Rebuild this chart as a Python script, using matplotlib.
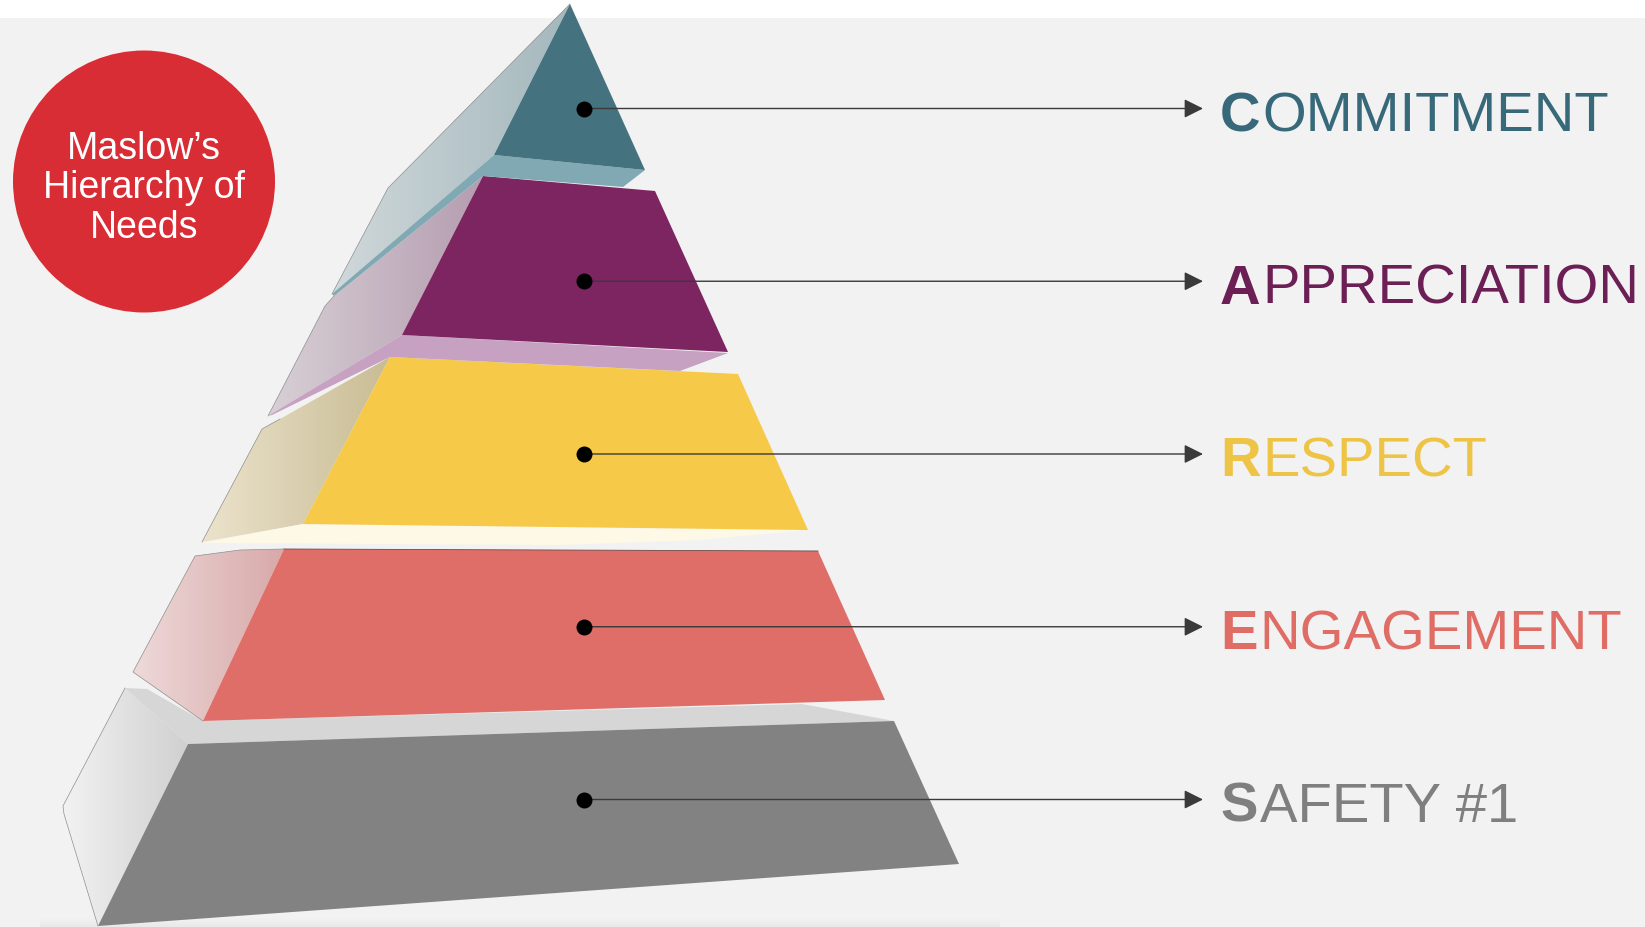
import numpy as np
import matplotlib
matplotlib.use("Agg")
import matplotlib.pyplot as plt
from matplotlib.patches import Polygon, Circle, Rectangle
from matplotlib.colors import to_rgb

plt.rcParams['font.family'] = ['Liberation Sans', 'DejaVu Sans']

# ---- content (bottom -> top) ----
levels = ['SAFETY #1', 'ENGAGEMENT', 'RESPECT', 'APPRECIATION', 'COMMITMENT']
label_colors = ['#7f7f7f', '#df6d66', '#eec447', '#6c1f55', '#37697a']
front_colors = ['#828282', '#e06e68', '#f7c948', '#7d2560', '#44737f']
under_colors = ['#d6d6d6', None, '#fdf9e6', '#c7a1c2', '#80a9b4']
side_left = ['#f2f2f2', '#eed9d9', '#ebe3cc', '#d8d0d6', '#d0d8da']
side_right = ['#d0d0d0', '#d8a9a9', '#c9bc94', '#b59db0', '#a4b8bd']
title_lines = ['Maslow\u2019s', 'Hierarchy of', 'Needs']

# ---- geometry of the drawn 3D pyramid (pixel space) ----
sides = [
    [(125, 689), (63, 807), (64, 815), (98, 927), (188, 745)],
    [(195, 557), (240, 551), (284, 550), (203, 722), (133, 673)],
    [(390, 358), (280, 420), (262, 430), (202, 543), (303, 525)],
    [(483, 177), (334, 297), (325, 307), (268, 417), (402, 336)],
    [(570, 5), (476, 100), (388, 189), (332, 295), (494, 156)],
]
side_outlines = [
    [(125, 689), (63, 807), (64, 815), (98, 927)],
    [(284, 550), (240, 551), (195, 557), (133, 673), (203, 722)],
    [(280, 420), (262, 430), (202, 543)],
    [(334, 297), (325, 307), (268, 417)],
    [(570, 5), (476, 100), (388, 189), (332, 295)],
]
unders = [
    [(125, 689), (147, 690), (203, 722), (802, 705), (894, 722), (188, 745)],
    None,
    [(303, 525), (808, 531), (700, 541), (560, 546), (202, 544)],
    [(402, 336), (728, 354), (680, 372), (390, 358), (272, 416), (268, 417)],
    [(494, 156), (645, 171), (623, 188), (483, 177), (334, 297), (332, 295)],
]
fronts = [
    [(188, 745), (894, 722), (959, 865), (98, 927)],
    [(284, 550), (818, 552), (885, 701), (203, 722)],
    [(390, 358), (738, 375), (808, 531), (303, 525)],
    [(483, 177), (655, 192), (728, 353), (402, 336)],
    [(570, 5), (645, 171), (494, 156)],
]

W, H = 1645, 928
fig = plt.figure(figsize=(W / 100, H / 100), dpi=100, facecolor='white')
ax = fig.add_axes([0, 0, 1, 1])
ax.set_axis_off()

ax.add_patch(Rectangle((0, 19), W, H - 19, facecolor='#f2f2f2', edgecolor='none', zorder=0))
# faint shadow at base
for k, a in enumerate(np.linspace(0.0, 0.035, 10)):
    ax.add_patch(Rectangle((40, 918 + k), 960, 1.2, facecolor='black', alpha=a,
                           edgecolor='none', zorder=0.5))


def grad_poly(pts, outline, c_left, c_right, z):
    poly = Polygon(pts, closed=True, facecolor='none', edgecolor='none', zorder=z)
    ax.add_patch(poly)
    xs = [p[0] for p in pts]
    ys = [p[1] for p in pts]
    x0, x1, y0, y1 = min(xs), max(xs), min(ys), max(ys)
    c1 = np.array(to_rgb(c_left))
    c2 = np.array(to_rgb(c_right))
    t = np.linspace(0, 1, 256)[None, :, None]
    img = c1 + (c2 - c1) * t
    im = ax.imshow(img, extent=[x0, x1, y1, y0], aspect='auto', zorder=z,
                   interpolation='bilinear')
    im.set_clip_path(poly)
    ax.plot([p[0] for p in outline], [p[1] for p in outline], color='#8f8f8f',
            lw=0.5, zorder=z + 0.01)


z = 1
for i in range(len(levels)):
    grad_poly(sides[i], side_outlines[i], side_left[i], side_right[i], z)
    z += 0.1
    if unders[i] is not None:
        ax.add_patch(Polygon(unders[i], closed=True, facecolor=under_colors[i],
                             edgecolor='none', zorder=z))
        z += 0.1
    ax.add_patch(Polygon(fronts[i], closed=True, facecolor=front_colors[i],
                         edgecolor='none', zorder=z))
    z += 0.1

# subtle dark top edge on the red tier
ax.plot([fronts[1][0][0], fronts[1][1][0]], [fronts[1][0][1], fronts[1][1][1]],
        color='#6a4a4a', lw=0.6, zorder=z)

# ---- dots, arrows, labels ----
dot_x = 584
tip_x = 1203
text_x = 1220
for i, (lab, col) in enumerate(zip(levels, label_colors)):
    y = 800.5 - 172.75 * i
    ax.annotate('', xy=(tip_x, y), xytext=(dot_x, y),
                arrowprops=dict(arrowstyle='-|>,head_length=0.4,head_width=0.2',
                                mutation_scale=29, color='#3a3a3a', lw=1.0,
                                shrinkA=0, shrinkB=0), zorder=20)
    ax.plot([dot_x], [y], marker='o', markersize=11.5, color='black',
            markeredgewidth=0, zorder=21)
    base = y + 21.5
    t1 = ax.text(text_x, base, lab[0], fontsize=40.5, fontweight='bold', color=col,
                 ha='left', va='baseline', zorder=22)
    ax.annotate(lab[1:], xy=(1, base), xycoords=(t1, 'data'), xytext=(2, 0),
                textcoords='offset pixels', fontsize=40.5, color=col,
                ha='left', va='baseline', zorder=22)

# ---- title circle ----
ax.add_patch(Circle((144, 182.5), 131, facecolor='#d92d35', edgecolor='none', zorder=5))
for line, by in zip(title_lines, [159, 198, 238]):
    ax.text(144, by, line, fontsize=27, color='white', ha='center', va='baseline', zorder=6)

ax.set_xlim(0, W)
ax.set_ylim(H, 0)
ax.set_aspect('auto')
fig.savefig('out.png', dpi=100, facecolor='white')
